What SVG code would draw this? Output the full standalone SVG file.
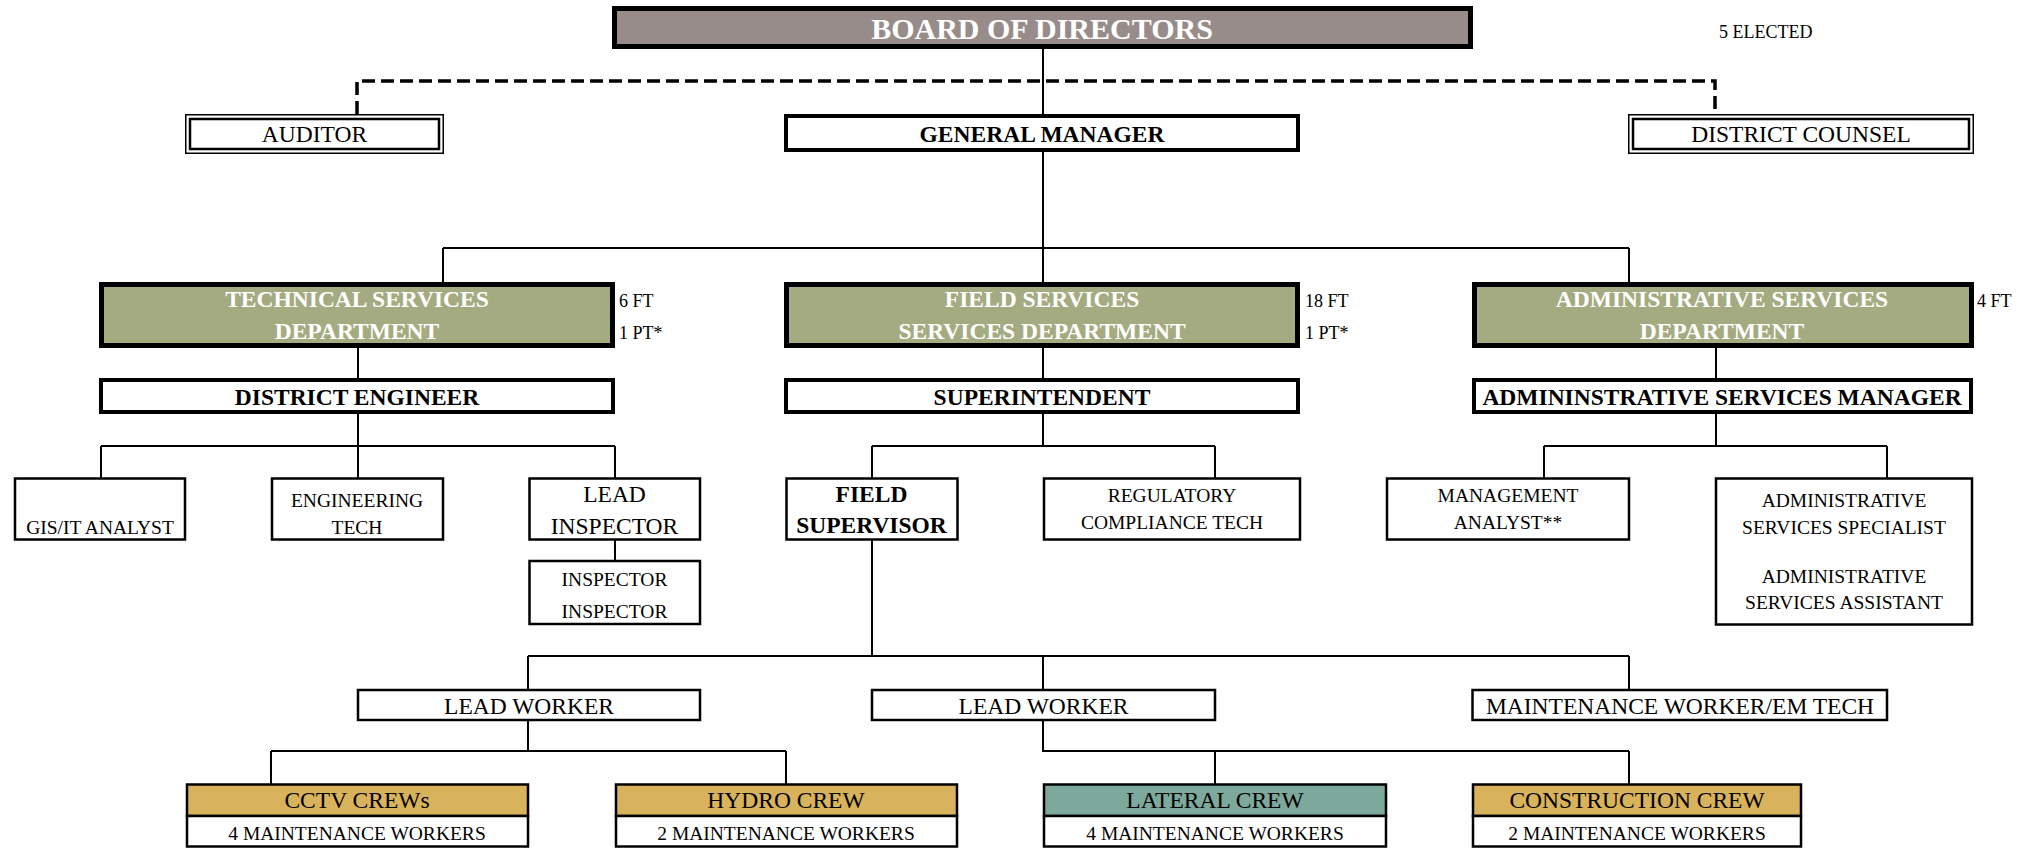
<svg xmlns="http://www.w3.org/2000/svg" width="2026" height="848" viewBox="0 0 2026 848">
<style>
text{font-family:"Liberation Serif","Times New Roman",serif;fill:#000;text-anchor:middle}
.b{font-weight:bold}
.w{fill:#fff}
.big{font-size:23.5px}
.sm{font-size:19.5px}
.ft{font-size:18px;text-anchor:start}
.box{fill:#fff;stroke:#000;stroke-width:2.5}
.thick{fill:#fff;stroke:#000;stroke-width:4}
.dept{fill:#a5ab80;stroke:#000;stroke-width:5}
.gold{fill:#d9b25c;stroke:#000;stroke-width:2.5}
.teal{fill:#7ca99c;stroke:#000;stroke-width:2.5}
.ln{fill:none;stroke:#000;stroke-width:2}
</style>
<rect width="2026" height="848" fill="#fff"/>
<g id="connectors">
<path class="ln" d="M1043,49V114M1043,152V282M443,248H1629M443,248V282M1629,248V282"/>
<path fill="none" stroke="#000" stroke-width="3.5" stroke-dasharray="13 6" d="M357,114V81H1715V114"/>
<path class="ln" d="M358,348V379M1043,348V379M1716,348V379"/>
<path class="ln" d="M358,413V446M101,446H615M101,446V478M358,446V478M615,446V478M615,540V561"/>
<path class="ln" d="M1043,413V446M872,446H1215M872,446V478M1215,446V478"/>
<path class="ln" d="M1716,413V446M1544,446H1887M1544,446V478M1887,446V478"/>
<path class="ln" d="M872,540V656M528,656H1629M528,656V689M1043,656V689M1629,656V689"/>
<path class="ln" d="M528,721V751M271,751H786M271,751V784M786,751V784"/>
<path class="ln" d="M1043,721V751H1629M1215,751V784M1629,751V784"/>
</g>
<g id="board">
<rect x="614.5" y="8.5" width="856" height="38" fill="#978c89" stroke="#000" stroke-width="5"/>
<text class="b w" x="1042" y="38.5" font-size="30">BOARD OF DIRECTORS</text>
<text class="ft" x="1719" y="38">5 ELECTED</text>
</g>
<g id="auditor">
<rect x="185.75" y="114.75" width="257.5" height="38.5" fill="#fff" stroke="#000" stroke-width="1.5"/>
<rect x="190" y="119" width="249" height="30" fill="none" stroke="#000" stroke-width="2.5"/>
<text class="big" x="314.5" y="142">AUDITOR</text>
</g>
<g id="general-manager">
<rect class="thick" x="786" y="116" width="512" height="34"/>
<text class="b big" x="1042" y="142">GENERAL MANAGER</text>
</g>
<g id="district-counsel">
<rect x="1628.75" y="114.75" width="344.5" height="38.5" fill="#fff" stroke="#000" stroke-width="1.5"/>
<rect x="1633" y="119" width="336" height="30" fill="none" stroke="#000" stroke-width="2.5"/>
<text class="big" x="1801" y="142">DISTRICT COUNSEL</text>
</g>
<g id="technical-services">
<rect class="dept" x="101.5" y="284.5" width="511" height="61"/>
<text class="b w big" x="357" y="306.5">TECHNICAL SERVICES</text>
<text class="b w big" x="357" y="339">DEPARTMENT</text>
<text class="ft" x="619" y="307">6 FT</text>
<text class="ft" x="619" y="339">1 PT*</text>
</g>
<g id="field-services">
<rect class="dept" x="786.5" y="284.5" width="511" height="61"/>
<text class="b w big" x="1042" y="306.5">FIELD SERVICES</text>
<text class="b w big" x="1042" y="339">SERVICES DEPARTMENT</text>
<text class="ft" x="1305" y="307">18 FT</text>
<text class="ft" x="1305" y="339">1 PT*</text>
</g>
<g id="administrative-services">
<rect class="dept" x="1474.5" y="284.5" width="497" height="61"/>
<text class="b w big" x="1722" y="306.5">ADMINISTRATIVE SERVICES</text>
<text class="b w big" x="1722" y="339">DEPARTMENT</text>
<text class="ft" x="1977" y="307">4 FT</text>
</g>
<g id="district-engineer">
<rect class="thick" x="101" y="380" width="512" height="32"/>
<text class="b big" x="357" y="404.5">DISTRICT ENGINEER</text>
</g>
<g id="superintendent">
<rect class="thick" x="786" y="380" width="512" height="32"/>
<text class="b big" x="1042" y="404.5">SUPERINTENDENT</text>
</g>
<g id="admin-services-manager">
<rect class="thick" x="1474" y="380" width="497" height="32"/>
<text class="b big" x="1722" y="404.5">ADMININSTRATIVE SERVICES MANAGER</text>
</g>
<g id="gis-it-analyst">
<rect class="box" x="15" y="478.5" width="170" height="61"/>
<text class="sm" x="100" y="534">GIS/IT ANALYST</text>
</g>
<g id="engineering-tech">
<rect class="box" x="272" y="478.5" width="171" height="61"/>
<text class="sm" x="357" y="507">ENGINEERING</text>
<text class="sm" x="357" y="534">TECH</text>
</g>
<g id="lead-inspector">
<rect class="box" x="529.5" y="478.5" width="170.5" height="61"/>
<text class="big" x="614.5" y="501.5">LEAD</text>
<text class="big" x="614.5" y="534">INSPECTOR</text>
</g>
<g id="inspector">
<rect class="box" x="529.5" y="561" width="170.5" height="63"/>
<text class="sm" x="614.5" y="585.5">INSPECTOR</text>
<text class="sm" x="614.5" y="617.5">INSPECTOR</text>
</g>
<g id="field-supervisor">
<rect class="box" x="786.5" y="478.5" width="171" height="61" stroke-width="3"/>
<text class="b big" x="871.5" y="501.5">FIELD</text>
<text class="b big" x="871.5" y="532.5">SUPERVISOR</text>
</g>
<g id="regulatory-compliance-tech">
<rect class="box" x="1044" y="478.5" width="256" height="61"/>
<text class="sm" x="1172" y="501.5">REGULATORY</text>
<text class="sm" x="1172" y="528.5">COMPLIANCE TECH</text>
</g>
<g id="management-analyst">
<rect class="box" x="1387" y="478.5" width="242" height="61"/>
<text class="sm" x="1508" y="501.5">MANAGEMENT</text>
<text class="sm" x="1508" y="528.5">ANALYST**</text>
</g>
<g id="admin-services-specialist">
<rect class="box" x="1716" y="478.5" width="256" height="146"/>
<text class="sm" x="1844" y="506.5">ADMINISTRATIVE</text>
<text class="sm" x="1844" y="533.5">SERVICES SPECIALIST</text>
<text class="sm" x="1844" y="582.5">ADMINISTRATIVE</text>
<text class="sm" x="1844" y="608.5">SERVICES ASSISTANT</text>
</g>
<g id="lead-worker-1">
<rect class="box" x="358" y="690" width="342" height="30"/>
<text class="big" x="529" y="713.5">LEAD WORKER</text>
</g>
<g id="lead-worker-2">
<rect class="box" x="872" y="690" width="343" height="30"/>
<text class="big" x="1043.5" y="713.5">LEAD WORKER</text>
</g>
<g id="maintenance-worker-em-tech">
<rect class="box" x="1472.5" y="690" width="414.5" height="30"/>
<text class="big" x="1680" y="713.5">MAINTENANCE WORKER/EM TECH</text>
</g>
<g id="cctv-crews">
<rect class="gold" x="187" y="784.5" width="341" height="31.5"/>
<rect class="box" x="187" y="816" width="341" height="30.5"/>
<text class="big" x="357" y="808">CCTV CREWs</text>
<text class="sm" x="357" y="839.5">4 MAINTENANCE WORKERS</text>
</g>
<g id="hydro-crew">
<rect class="gold" x="616" y="784.5" width="341" height="31.5"/>
<rect class="box" x="616" y="816" width="341" height="30.5"/>
<text class="big" x="786" y="808">HYDRO CREW</text>
<text class="sm" x="786" y="839.5">2 MAINTENANCE WORKERS</text>
</g>
<g id="lateral-crew">
<rect class="teal" x="1044" y="784.5" width="342" height="31.5"/>
<rect class="box" x="1044" y="816" width="342" height="30.5"/>
<text class="big" x="1215" y="808">LATERAL CREW</text>
<text class="sm" x="1215" y="839.5">4 MAINTENANCE WORKERS</text>
</g>
<g id="construction-crew">
<rect class="gold" x="1473" y="784.5" width="328" height="31.5"/>
<rect class="box" x="1473" y="816" width="328" height="30.5"/>
<text class="big" x="1637" y="808">CONSTRUCTION CREW</text>
<text class="sm" x="1637" y="839.5">2 MAINTENANCE WORKERS</text>
</g>
</svg>
